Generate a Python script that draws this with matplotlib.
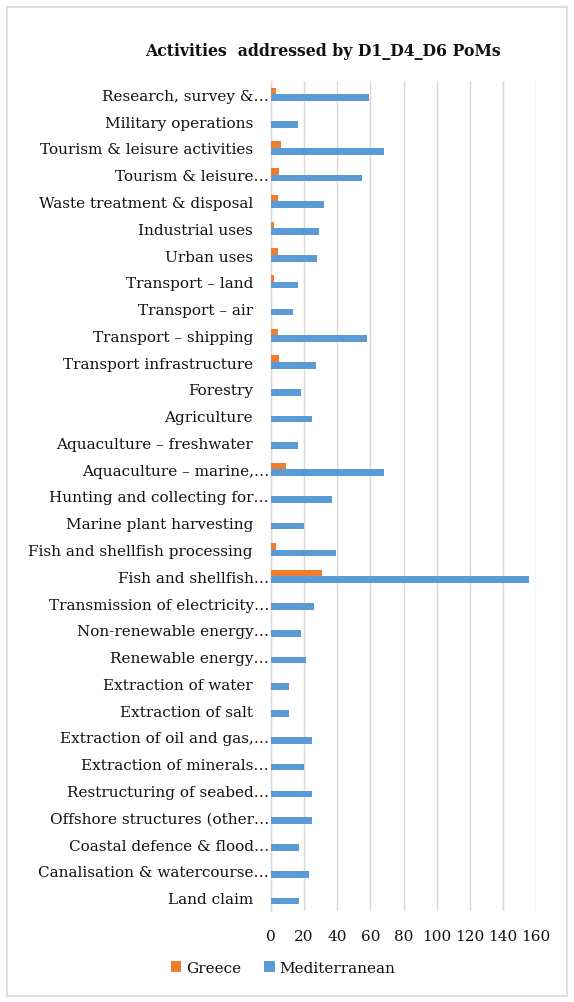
import matplotlib
matplotlib.use("Agg")
import matplotlib.pyplot as plt
import matplotlib.transforms as mtransforms
from matplotlib.patches import Rectangle
import numpy as np

categories = [
    "Research, survey &…",
    "Military operations",
    "Tourism & leisure activities",
    "Tourism & leisure…",
    "Waste treatment & disposal",
    "Industrial uses",
    "Urban uses",
    "Transport – land",
    "Transport – air",
    "Transport – shipping",
    "Transport infrastructure",
    "Forestry",
    "Agriculture",
    "Aquaculture – freshwater",
    "Aquaculture – marine,…",
    "Hunting and collecting for…",
    "Marine plant harvesting",
    "Fish and shellfish processing",
    "Fish and shellfish…",
    "Transmission of electricity…",
    "Non-renewable energy…",
    "Renewable energy…",
    "Extraction of water",
    "Extraction of salt",
    "Extraction of oil and gas,…",
    "Extraction of minerals…",
    "Restructuring of seabed…",
    "Offshore structures (other…",
    "Coastal defence & flood…",
    "Canalisation & watercourse…",
    "Land claim",
]
greece = [3, 0, 6, 5, 4, 2, 4, 2, 0, 4, 5, 0, 0, 0, 9, 0, 0, 3, 31, 0, 0, 0, 0, 0, 0, 0, 0, 0, 0, 0, 0]
mediterranean = [59, 16, 68, 55, 32, 29, 28, 16, 13, 58, 27, 18, 25, 16, 68, 37, 20, 39, 156,
                 26, 18, 21, 11, 11, 25, 20, 25, 25, 17, 23, 17]
xticks = [0, 20, 40, 60, 80, 100, 120, 140, 160]

W, H = 574, 1003
fig = plt.figure(figsize=(W / 100, H / 100), dpi=100)
fig.patch.set_facecolor("white")

# chart frame
fig.patches.append(Rectangle((7 / W, 1 - 997 / H), (567 - 7) / W, (997 - 8) / H,
                             transform=fig.transFigure, fill=False,
                             edgecolor="#D9D9D9", linewidth=1.2))

ax = fig.add_axes([271 / W, 1 - 912 / H, (536 - 271) / W, (912 - 82) / H])
font = "DejaVu Serif"
tc = "#111111"

y = np.arange(len(categories))
h = 0.25
ax.barh(y - h / 2, greece, height=h, color="#ED7D31", label="Greece", zorder=3)
ax.barh(y + h / 2, mediterranean, height=h, color="#5B9BD5", label="Mediterranean", zorder=3)

ax.set_xlim(0, 160)
ax.set_ylim(len(categories) - 0.5, -0.5)
ax.set_xticks(xticks)
ax.set_xticklabels([str(t) for t in xticks], fontfamily=font, fontsize=11, color=tc)
ax.set_yticks(y)
ax.set_yticklabels(categories, fontfamily=font, fontsize=11, color=tc)
ax.tick_params(axis="both", length=0)
ax.tick_params(axis="y", pad=13)
ax.tick_params(axis="x", pad=13)

for lab in ax.get_yticklabels():
    if lab.get_text().endswith("…"):
        lab.set_transform(lab.get_transform() +
                          mtransforms.ScaledTranslation(16 / 100, 0, fig.dpi_scale_trans))

ax.grid(axis="x", color="#D9D9D9", linewidth=1.0, zorder=0)
for s in ["top", "right", "bottom"]:
    ax.spines[s].set_visible(False)
ax.spines["left"].set_color("#D9D9D9")
ax.spines["left"].set_linewidth(1.0)

fig.text(323 / W, 1 - 52 / H, "Activities  addressed by D1_D4_D6 PoMs",
         ha="center", va="center", fontfamily=font, fontweight="bold", fontsize=11.3, color=tc)

handles, labels = ax.get_legend_handles_labels()
fig.legend(handles, labels, loc="center", bbox_to_anchor=(283 / W, 1 - 969 / H), ncol=2,
           frameon=False, prop={"family": font, "size": 11}, handlelength=0.7,
           handleheight=0.7, handletextpad=0.3, columnspacing=1.5,
           labelcolor=tc)

fig.savefig("out.png", dpi=100, facecolor="white")
